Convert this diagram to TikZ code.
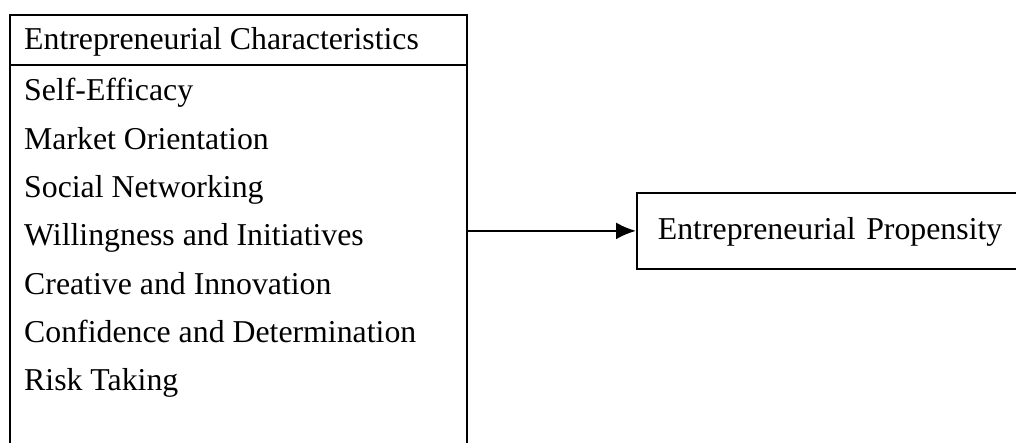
\documentclass[tikz,border=0pt]{standalone}
\usepackage{fontspec}
\setmainfont{Liberation Serif}
\usetikzlibrary{arrows.meta,positioning}

\begin{document}
\begin{tikzpicture}[x=1pt,y=-1pt,
  box/.style={draw,rectangle,line width=2.2pt,inner sep=0pt},
  item/.style={anchor=base west,inner sep=0pt,font=\fontsize{31.8}{38}\selectfont},
  link/.style={line width=2.2pt,-{Latex[length=20pt,width=17pt]}}]
  \useasboundingbox (0,0) rectangle (1016,443);
  % left box, open at the bottom of the page
  \node[box,anchor=north west,minimum width=457pt,minimum height=480pt] (chars) at (9,14) {};
  \node[box,anchor=north west,minimum width=457pt,minimum height=50pt] (head) at (9,14) {};
  \node[item] (title) at (24,49.5) {Entrepreneurial Characteristics};
  \foreach \txt [count=\i] in {Self-Efficacy,Market Orientation,Social Networking,
      Willingness and Initiatives,Creative and Innovation,
      Confidence and Determination,Risk Taking}
    \node[item] (item\i) at (24,{101+48.3*(\i-1)}) {\txt};
  % outcome box, runs off the right edge
  \node[box,line width=1.8pt,anchor=north west,minimum height=76pt,text width=360pt,
        inner xsep=21pt,text height=18pt,text depth=0pt,align=left,
        font=\fontsize{31.8}{38}\selectfont] (prop) at (636,192)
        {Entrepreneurial Propensity};
  \draw[link] (chars.east |- prop.west) -- (prop.west);
\end{tikzpicture}
\end{document}
